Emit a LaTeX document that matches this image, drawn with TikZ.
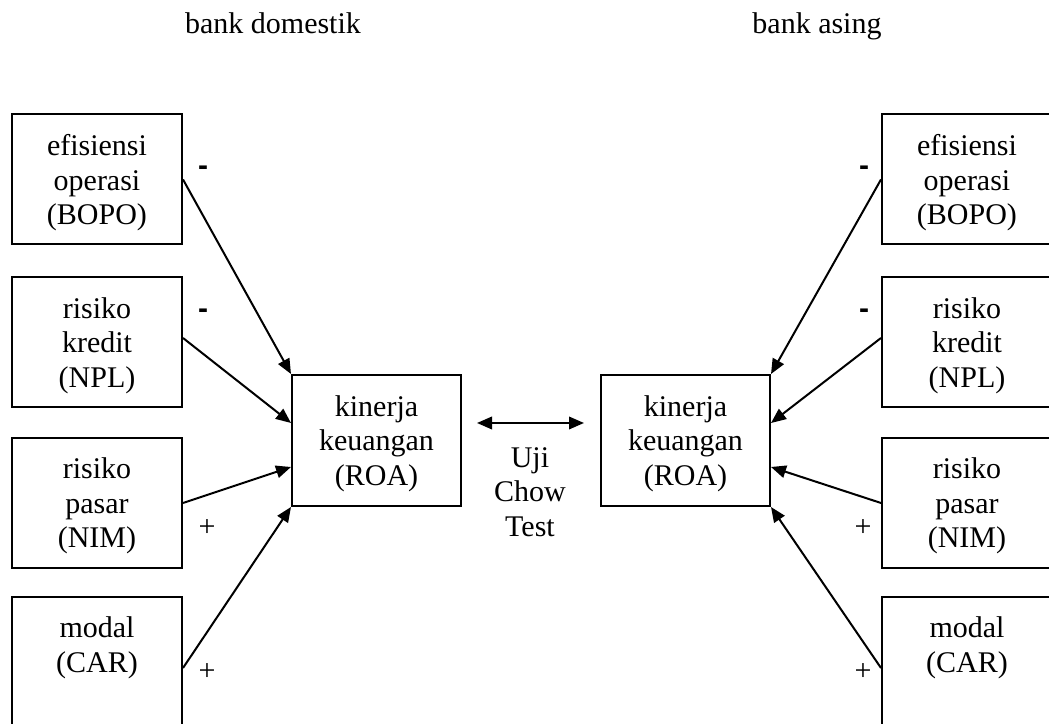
\documentclass[tikz,border=0pt,12pt]{standalone}
\usepackage{fontspec}
\setmainfont{Liberation Serif}
\newfontfamily\tandafont{Liberation Sans}
\usetikzlibrary{arrows.meta}
\begin{document}
\begin{tikzpicture}[x=0.4pt, y=-0.4pt,
    every node/.style={font=\fontsize{12}{13.8}\selectfont},
    varbox/.style={draw, line width=0.8pt, minimum width=68pt, minimum height=52pt, align=center, inner sep=0pt, text depth=-0.6pt},
    roabox/.style={varbox, minimum width=67.6pt, minimum height=52.4pt},
    panah/.style={-{Triangle[length=6pt,width=5pt]}, line width=0.8pt},
    tanda/.style={inner sep=0pt},
    judul/.style={anchor=base}]
    \useasboundingbox (0,0) rectangle (1049,724);
    \clip (0,0) rectangle (1049,724);
    \node[judul] (domestik) at (273,34) {bank domestik};
    \node[judul] (asing) at (817,34) {bank asing};
    % bank domestik
    \node[varbox] (bopoL) at (97,179.5) {efisiensi\\operasi\\(BOPO)};
    \node[varbox] (nplL) at (97,342.5) {risiko\\kredit\\(NPL)};
    \node[varbox] (nimL) at (97,503) {risiko\\pasar\\(NIM)};
    \node[varbox] (carL) at (97,662) {modal\\(CAR)\\\strut};
    \node[roabox] (roaL) at (376.5,440.5) {kinerja\\keuangan\\(ROA)};
    \draw[panah] (bopoL.east) -- (roaL.north west);
    \draw[panah] ([yshift=1.8pt]nplL.east) -- ([yshift=7pt]roaL.west);
    \draw[panah] (nimL.east) -- ([yshift=-10.6pt]roaL.west);
    \draw[panah] ([yshift=-2.4pt]carL.east) -- (roaL.south west);
    \node[tanda] (s1L) at (203,171) {\tandafont\bfseries -};
    \node[tanda] (s2L) at (203,314) {\tandafont\bfseries -};
    \node[tanda] (s3L) at (207,528) {+};
    \node[tanda] (s4L) at (207,672) {+};
    % bank asing
    \node[varbox] (bopoR) at (967,179.5) {efisiensi\\operasi\\(BOPO)};
    \node[varbox] (nplR) at (967,342.5) {risiko\\kredit\\(NPL)};
    \node[varbox] (nimR) at (967,503) {risiko\\pasar\\(NIM)};
    \node[varbox] (carR) at (967,662) {modal\\(CAR)\\\strut};
    \node[roabox] (roaR) at (685.5,440.5) {kinerja\\keuangan\\(ROA)};
    \draw[panah] (bopoR.west) -- (roaR.north east);
    \draw[panah] ([yshift=1.8pt]nplR.west) -- ([yshift=7pt]roaR.east);
    \draw[panah] (nimR.west) -- ([yshift=-10.6pt]roaR.east);
    \draw[panah] ([yshift=-2.4pt]carR.west) -- (roaR.south east);
    \node[tanda] (s1R) at (864,171) {\tandafont\bfseries -};
    \node[tanda] (s2R) at (864,314) {\tandafont\bfseries -};
    \node[tanda] (s3R) at (863,528) {+};
    \node[tanda] (s4R) at (863,672) {+};
    % uji chow
    \coordinate (chowA) at (477,423);
    \coordinate (chowB) at (584,423);
    \draw[{Triangle[length=6pt,width=5pt]}-{Triangle[length=6pt,width=5pt]}, line width=0.8pt] (chowA) -- (chowB);
    \node[align=center] (uji) at (530,492) {Uji\\Chow\\Test};
\end{tikzpicture}
\end{document}
